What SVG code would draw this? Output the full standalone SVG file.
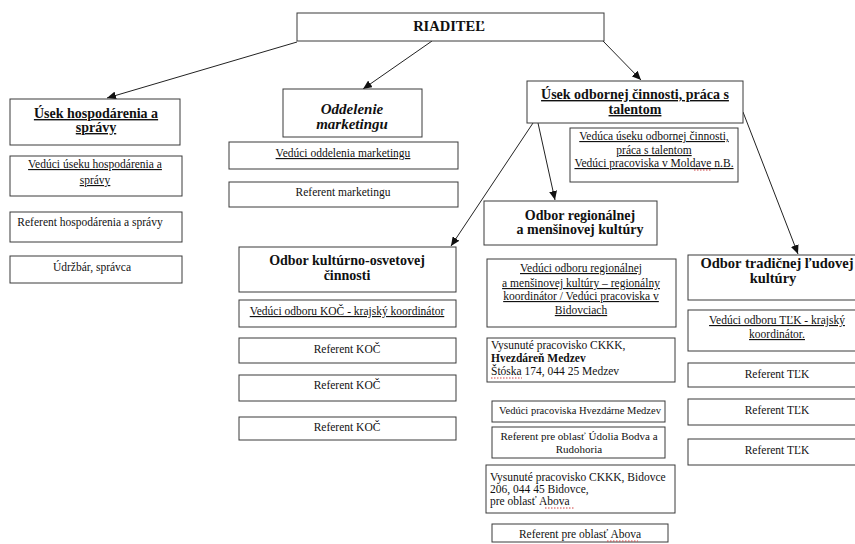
<svg xmlns="http://www.w3.org/2000/svg" width="855" height="544" viewBox="0 0 855 544">
<style>
.box{fill:#fff;stroke:#3a3a3a;stroke-width:1}
.t{font-family:"Liberation Serif","Times New Roman",serif;font-size:11.5px;fill:#111}
.c{text-anchor:middle}
.u{text-decoration:underline}
.h{font-weight:bold;font-size:14px}
.edge{stroke:#222;stroke-width:1;fill:none;marker-end:url(#arr)}
.sp{stroke:#d04040;stroke-width:1;stroke-dasharray:1.5 1.5;fill:none}
</style>
<defs>
<marker id="arr" markerUnits="userSpaceOnUse" markerWidth="10" markerHeight="8" refX="9" refY="4" orient="auto">
<path d="M0,0 L9,4 L0,8 z" fill="#111"/>
</marker>
</defs>
<rect width="855" height="544" fill="#fff"/>
<g id="connectors">
<line class="edge" x1="297" y1="42" x2="107" y2="98"/>
<line class="edge" x1="432" y1="41" x2="363" y2="89"/>
<line class="edge" x1="603" y1="41" x2="641" y2="80"/>
<line class="edge" x1="533" y1="123" x2="451" y2="246"/>
<line class="edge" x1="538" y1="123" x2="555" y2="200"/>
<line class="edge" x1="743" y1="112" x2="798" y2="254"/>
</g>
<g id="riaditel">
<rect class="box" x="297" y="13" width="307" height="28"/>
<text class="t c" x="449" y="31" style="font-weight:bold;font-size:14.5px">RIADITEĽ</text>
</g>
<g id="usek-hosp">
<rect class="box" x="10" y="99" width="170" height="46"/>
<text class="t c h u" x="96" y="118">Úsek hospodárenia  a</text>
<text class="t c h u" x="96" y="132">správy</text>
</g>
<g id="veduci-hosp">
<rect class="box" x="10" y="156" width="172" height="40"/>
<text class="t c u" x="95" y="168">Vedúci úseku hospodárenia a</text>
<text class="t c u" x="95" y="184">správy</text>
</g>
<g id="referent-hosp">
<rect class="box" x="10" y="212" width="172" height="30"/>
<text class="t c" x="90" y="226">Referent hospodárenia a správy</text>
</g>
<g id="udrzbar">
<rect class="box" x="10" y="256" width="172" height="27"/>
<text class="t c" x="92" y="271">Údržbár, správca</text>
</g>
<g id="marketing">
<rect class="box" x="283" y="89" width="139" height="48"/>
<text class="t c" x="352" y="114" style="font-weight:bold;font-style:italic;font-size:15px">Oddelenie</text>
<text class="t c" x="352" y="129" style="font-weight:bold;font-style:italic;font-size:15px">marketingu</text>
</g>
<g id="veduci-mark">
<rect class="box" x="229" y="142" width="229" height="27"/>
<text class="t c u" x="343" y="157">Vedúci oddelenia marketingu</text>
</g>
<g id="referent-mark">
<rect class="box" x="229" y="182" width="229" height="25"/>
<text class="t c" x="343" y="196">Referent marketingu</text>
</g>
<g id="odbor-koc">
<rect class="box" x="239" y="247" width="217" height="45"/>
<text class="t c h" x="347" y="265">Odbor  kultúrno-osvetovej</text>
<text class="t c h" x="347" y="280">činnosti</text>
</g>
<g id="veduci-koc">
<rect class="box" x="239" y="300" width="217" height="27"/>
<text class="t c u" x="347" y="315">Vedúci odboru KOČ - krajský koordinátor</text>
</g>
<g id="referent-koc-1">
<rect class="box" x="239" y="338" width="217" height="25"/>
<text class="t c" x="347" y="353">Referent KOČ</text>
</g>
<g id="referent-koc-2">
<rect class="box" x="239" y="375" width="217" height="26"/>
<text class="t c" x="347" y="389">Referent KOČ</text>
</g>
<g id="referent-koc-3">
<rect class="box" x="239" y="417" width="217" height="23"/>
<text class="t c" x="347" y="431">Referent KOČ</text>
</g>
<g id="usek-odb">
<rect class="box" x="527" y="81" width="216" height="42"/>
<text class="t c h u" x="635" y="99">Úsek odbornej  činnosti, práca s</text>
<text class="t c h u" x="635" y="114">talentom</text>
</g>
<g id="veduca-odb">
<rect class="box" x="570" y="128" width="168" height="54"/>
<text class="t c u" x="654" y="140">Vedúca úseku odbornej činnosti,</text>
<text class="t c u" x="654" y="154">práca s talentom</text>
<text class="t c u" x="654" y="167">Vedúci pracoviska v Moldave n.B.</text>
<path class="sp" d="M694,170 L711,170"/>
</g>
<g id="odbor-reg">
<rect class="box" x="484" y="201" width="173" height="44"/>
<text class="t c h" x="580" y="220">Odbor regionálnej</text>
<text class="t c h" x="580" y="234">a menšinovej kultúry</text>
</g>
<g id="veduci-reg">
<rect class="box" x="487" y="259" width="189" height="68"/>
<text class="t c u" x="581" y="272">Vedúci odboru regionálnej</text>
<text class="t c u" x="581" y="287">a menšinovej kultúry – regionálny</text>
<text class="t c u" x="581" y="300">koordinátor / Vedúci pracoviska v</text>
<text class="t c u" x="581" y="314">Bidovciach</text>
</g>
<g id="hvezdaren">
<rect class="box" x="487" y="338" width="188" height="44"/>
<text class="t" x="491" y="349">Vysunuté pracovisko CKKK,</text>
<text class="t" x="491" y="362" style="font-weight:bold">Hvezdáreň Medzev</text>
<text class="t" x="491" y="375">Štóska 174, 044 25  Medzev</text>
<path class="sp" d="M491,378 L522,378"/>
</g>
<g id="veduci-hvezd">
<rect class="box" x="492" y="401" width="173" height="21"/>
<text class="t c" x="580" y="414" style="font-size:10.5px">Vedúci pracoviska Hvezdárne Medzev</text>
</g>
<g id="referent-bodva">
<rect class="box" x="492" y="427" width="173" height="31"/>
<text class="t c" x="579" y="440" style="font-size:11px">Referent pre oblasť Údolia Bodva a</text>
<text class="t c" x="579" y="453" style="font-size:11px">Rudohoria</text>
</g>
<g id="bidovce">
<rect class="box" x="486" y="465" width="189" height="48"/>
<text class="t" x="490" y="481">Vysunuté pracovisko CKKK, Bidovce</text>
<text class="t" x="490" y="493">206, 044 45  Bidovce,</text>
<text class="t" x="490" y="505">pre oblasť Abova</text>
<path class="sp" d="M545,508 L575,508"/>
</g>
<g id="referent-abova">
<rect class="box" x="492" y="524" width="176" height="18"/>
<text class="t c" x="580" y="538">Referent pre oblasť Abova</text>
<path class="sp" d="M607,541 L638,541"/>
</g>
<g id="odbor-tlk">
<rect class="box" x="688" y="255" width="170" height="45"/>
<text class="t c h" x="777" y="268" style="font-size:14.5px">Odbor tradičnej ľudovej</text>
<text class="t c h" x="773" y="283" style="font-size:14.5px">kultúry</text>
</g>
<g id="veduci-tlk">
<rect class="box" x="688" y="310" width="170" height="41"/>
<text class="t c u" x="777" y="324">Vedúci odboru TĽK - krajský</text>
<text class="t c u" x="777" y="338">koordinátor.</text>
</g>
<g id="referent-tlk-1">
<rect class="box" x="688" y="363" width="170" height="24"/>
<text class="t c" x="777" y="378">Referent TĽK</text>
</g>
<g id="referent-tlk-2">
<rect class="box" x="688" y="399" width="170" height="26"/>
<text class="t c" x="777" y="414">Referent TĽK</text>
</g>
<g id="referent-tlk-3">
<rect class="box" x="688" y="439" width="170" height="26"/>
<text class="t c" x="777" y="454">Referent TĽK</text>
</g>
</svg>
